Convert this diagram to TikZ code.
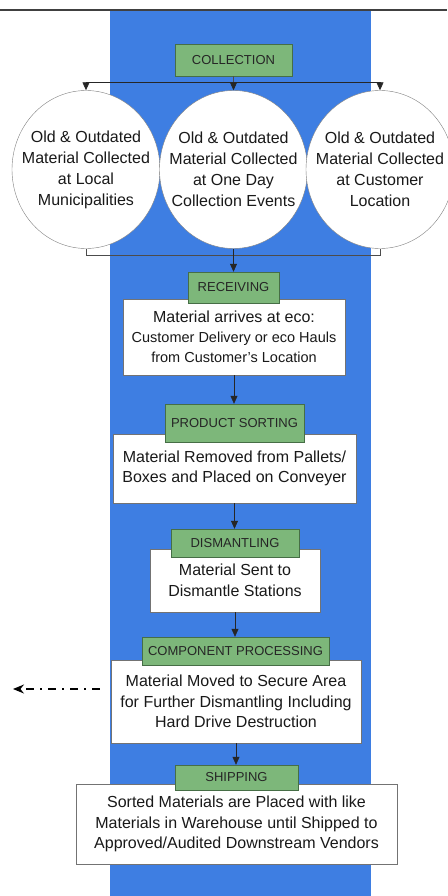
\documentclass[tikz,border=0pt]{standalone}
\usepackage{fontspec}
\setmainfont{Liberation Sans}
\usetikzlibrary{arrows.meta,shapes.geometric}
\definecolor{bandblue}{RGB}{62,126,226}
\definecolor{labgreen}{RGB}{125,183,122}
\definecolor{labedge}{RGB}{70,110,70}
\begin{document}
\begin{tikzpicture}[x=1pt,y=-1pt,
    label/.style={draw=labedge,fill=labgreen,inner sep=0pt,text=black!85,font=\fontsize{13}{15}\selectfont},
    textbox/.style={draw=black!55,fill=white,inner sep=0pt,align=center,text=black!90,font=\fontsize{16}{20.5}\selectfont},
    bubble/.style={ellipse,draw=black!50,fill=white,minimum width=148pt,minimum height=158pt,inner sep=0pt},
    arr/.style={-{Triangle[width=7pt,length=8pt]},black!85,line width=0.6pt},
    link/.style={black!70,line width=0.6pt}]
        \useasboundingbox (0,0) rectangle (447,896);
        % background
        \fill[bandblue] (110,11) rectangle (371,896);
        \draw[black!75,line width=1.2pt] (0,10) -- (447,10);
        % collection
        \node[label,minimum width=117pt,minimum height=32pt] (coll) at (233.5,60) {COLLECTION};
        \node[bubble] (c1) at (86,169.5) {};
        \node[bubble] (c2) at (233.5,169.5) {};
        \node[bubble] (c3) at (380,169.5) {};
        \node[align=center,text=black!90,font=\fontsize{16}{21}\selectfont] at (c1) {Old \& Outdated\\Material Collected\\at Local\\Municipalities};
        \node[align=center,text=black!90,font=\fontsize{16}{21}\selectfont] at (c2) {Old \& Outdated\\Material Collected\\at One Day\\Collection Events};
        \node[align=center,text=black!90,font=\fontsize{16}{21}\selectfont] at (c3) {Old \& Outdated\\Material Collected\\at Customer\\Location};
        % steps
        \node[textbox,minimum width=222pt,minimum height=76pt] (recvbox) at (234,337) {Material arrives at eco:\\[-1pt]{\fontsize{14.5}{19.5}\selectfont Customer Delivery or eco Hauls}\\{\fontsize{14.5}{19.5}\selectfont from Customer's Location}};
        \node[label,minimum width=91pt,minimum height=31pt] (recv) at (233.5,287.5) {RECEIVING};
        \node[textbox,minimum width=243pt,minimum height=69pt] (sortbox) at (234.5,468.5) {Material Removed from Pallets/\\Boxes and Placed on Conveyer};
        \node[label,minimum width=139pt,minimum height=38pt] (sort) at (234.5,423) {PRODUCT SORTING};
        \node[textbox,minimum width=170pt,minimum height=63pt] (dismbox) at (235,580.5) {Material Sent to\\Dismantle Stations};
        \node[label,minimum width=128pt,minimum height=28pt] (dism) at (235,543) {DISMANTLING};
        \node[textbox,minimum width=250pt,minimum height=83pt] (compbox) at (236,701.5) {Material Moved to Secure Area\\for Further Dismantling Including\\Hard Drive Destruction};
        \node[label,minimum width=187pt,minimum height=28pt] (comp) at (235.5,651) {COMPONENT PROCESSING};
        \node[textbox,minimum width=321pt,minimum height=80pt] (shipbox) at (236.5,824) {Sorted Materials are Placed with like\\Materials in Warehouse until Shipped to\\Approved/Audited Downstream Vendors};
        \node[label,minimum width=123pt,minimum height=25pt] (ship) at (236.5,777.5) {SHIPPING};
        % arrows
        \coordinate (split) at (233.5,82);
        \coordinate (out) at (13,689);
        \draw[link] (coll.south) -- (split);
        \draw[arr] (split) -| (c1.north);
        \draw[arr] (split) -| (c3.north);
        \draw[arr] (split) -- (c2.north);
        \draw[link] (c1.south) -- ++(0,7) -| (c3.south);
        \draw[arr] (c2.south) -- (recv.north);
        \draw[arr] (recvbox.south) -- (recvbox.south |- sort.north);
        \draw[arr] (sortbox.south) -- (sortbox.south |- dism.north);
        \draw[arr] (dismbox.south) -- (dismbox.south |- comp.north);
        \draw[arr] (compbox.south) -- (compbox.south |- ship.north);
        \draw[-{Stealth[width=9pt,length=11pt]},line width=1.4pt,dash pattern=on 8pt off 6pt on 2pt off 6pt] ([xshift=-11pt]compbox.west |- out) -- (out);
\end{tikzpicture}
\end{document}
